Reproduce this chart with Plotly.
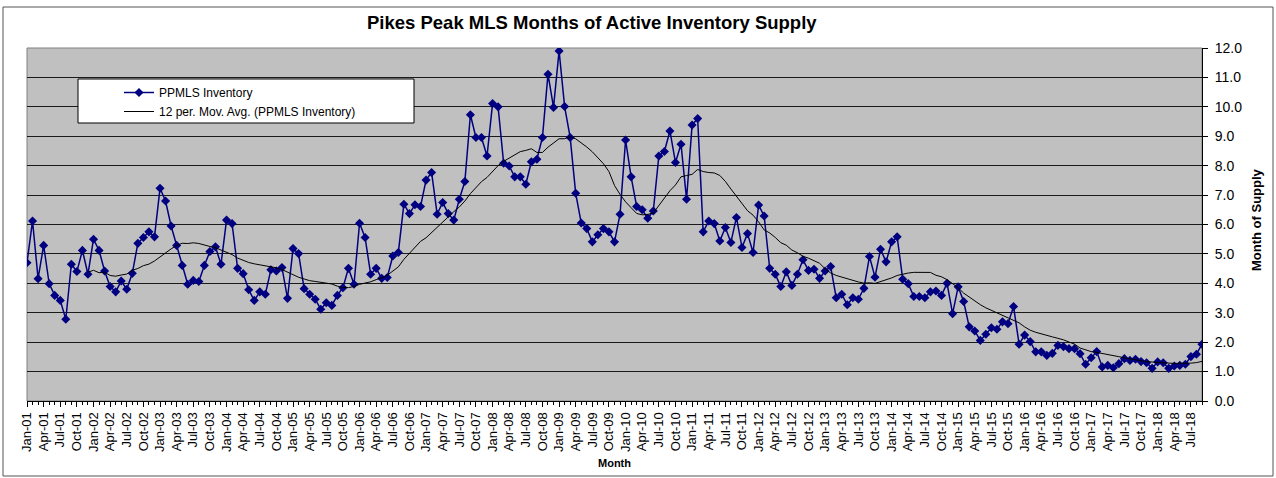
import pandas as pd
import plotly.graph_objects as go

# Months of supply, one list per year (Jan..Dec)
supply_2001 = [4.70, 6.12, 4.16, 5.29, 3.99, 3.59, 3.42, 2.78, 4.65, 4.40, 5.12, 4.31]
supply_2002 = [5.50, 5.12, 4.42, 3.89, 3.71, 4.08, 3.80, 4.34, 5.36, 5.56, 5.75, 5.58]
supply_2003 = [7.23, 6.80, 5.95, 5.29, 4.61, 3.97, 4.10, 4.06, 4.61, 5.08, 5.24, 4.65]
supply_2004 = [6.15, 6.03, 4.51, 4.33, 3.78, 3.42, 3.71, 3.63, 4.46, 4.42, 4.54, 3.49]
supply_2005 = [5.18, 5.01, 3.82, 3.63, 3.46, 3.12, 3.34, 3.25, 3.59, 3.85, 4.51, 3.97]
supply_2006 = [6.04, 5.56, 4.31, 4.51, 4.17, 4.20, 4.93, 5.05, 6.69, 6.37, 6.67, 6.61]
supply_2007 = [7.51, 7.77, 6.35, 6.75, 6.37, 6.15, 6.86, 7.46, 9.73, 8.96, 8.96, 8.33]
supply_2008 = [10.11, 10.00, 8.08, 7.99, 7.62, 7.62, 7.37, 8.13, 8.22, 8.96, 11.11, 9.98]
supply_2009 = [11.90, 10.01, 8.96, 7.06, 6.05, 5.86, 5.41, 5.65, 5.86, 5.75, 5.41, 6.35]
supply_2010 = [8.87, 7.62, 6.61, 6.50, 6.21, 6.46, 8.33, 8.48, 9.18, 8.11, 8.73, 6.86]
supply_2011 = [9.38, 9.60, 5.75, 6.12, 6.03, 5.44, 5.90, 5.39, 6.24, 5.22, 5.69, 5.05]
supply_2012 = [6.66, 6.29, 4.51, 4.31, 3.89, 4.39, 3.93, 4.31, 4.80, 4.44, 4.48, 4.17]
supply_2013 = [4.42, 4.57, 3.51, 3.63, 3.27, 3.51, 3.46, 3.83, 4.91, 4.21, 5.16, 4.73]
supply_2014 = [5.41, 5.58, 4.14, 3.99, 3.55, 3.55, 3.51, 3.71, 3.74, 3.59, 4.00, 2.97]
supply_2015 = [3.88, 3.38, 2.52, 2.38, 2.06, 2.27, 2.49, 2.44, 2.69, 2.63, 3.21, 1.93]
supply_2016 = [2.24, 2.02, 1.67, 1.67, 1.55, 1.62, 1.89, 1.85, 1.78, 1.78, 1.61, 1.25]
supply_2017 = [1.47, 1.68, 1.16, 1.21, 1.13, 1.27, 1.44, 1.38, 1.42, 1.34, 1.30, 1.11]
supply_2018 = [1.33, 1.30, 1.11, 1.19, 1.21, 1.25, 1.51, 1.59, 1.93]

inventory = (supply_2001 + supply_2002 + supply_2003 + supply_2004 + supply_2005
             + supply_2006 + supply_2007 + supply_2008 + supply_2009 + supply_2010
             + supply_2011 + supply_2012 + supply_2013 + supply_2014 + supply_2015
             + supply_2016 + supply_2017 + supply_2018)

# Category labels (Jan-01 ... Sep-18)
months = list(pd.date_range("2001-01-01", periods=len(inventory), freq="MS").strftime("%b-%y"))
x_idx = list(range(len(inventory)))

# 12-period moving-average trendline (as Excel computes it)
mov_avg = pd.Series(inventory).rolling(12).mean().tolist()

NAVY = "#000080"
FONT = "Liberation Sans, Arial, sans-serif"

# pixel layout helpers
L, R, T, B = 27, 1202, 48, 401
def px(x):
    return (x - L) / (R - L)
def py(y):
    return (B - y) / (B - T)

fig = go.Figure()
fig.add_trace(go.Scatter(
    x=x_idx, y=inventory, mode="lines+markers", name="PPMLS Inventory",
    line=dict(color=NAVY, width=1.5),
    marker=dict(symbol="diamond", size=7, color=NAVY),
))
fig.add_trace(go.Scatter(
    x=x_idx, y=mov_avg, mode="lines", name="12 per. Mov. Avg. (PPMLS Inventory)",
    line=dict(color="black", width=1),
))

shapes = [
    # outer chart border
    dict(type="rect", xref="paper", yref="paper", x0=px(3), x1=px(1273), y0=py(476), y1=py(7),
         line=dict(color="#555555", width=1), fillcolor="rgba(0,0,0,0)", layer="below"),
    # plot area border
    dict(type="rect", xref="paper", yref="paper", x0=0, x1=1, y0=0, y1=1,
         line=dict(color="#808080", width=1), fillcolor="rgba(0,0,0,0)", layer="below"),
    # legend box
    dict(type="rect", xref="paper", yref="paper", x0=px(78), x1=px(414), y0=py(123), y1=py(79),
         line=dict(color="black", width=1), fillcolor="white", layer="above"),
]

fig.update_layout(
    width=1276, height=478,
    margin=dict(l=L, r=1276 - R, t=T, b=478 - B),
    paper_bgcolor="white", plot_bgcolor="#C0C0C0",
    font=dict(family=FONT, color="black", size=12),
    showlegend=True,
    legend=dict(x=px(119), y=py(78), xanchor="left", yanchor="top",
                bgcolor="rgba(0,0,0,0)", borderwidth=0,
                font=dict(family=FONT, size=12), tracegroupgap=0),
    shapes=shapes,
    annotations=[
        dict(text="<b>Pikes Peak MLS Months of Active Inventory Supply</b>", xref="paper", yref="paper",
             x=px(592), y=py(22), xanchor="center", yanchor="middle", showarrow=False,
             font=dict(family=FONT, size=18.5)),
        dict(text="<b>Month</b>", xref="paper", yref="paper",
             x=px(614), y=py(463), xanchor="center", yanchor="middle", showarrow=False,
             font=dict(family=FONT, size=11)),
        dict(text="<b>Month of Supply</b>", xref="paper", yref="paper",
             x=px(1256), y=py(220), xanchor="center", yanchor="middle", showarrow=False,
             textangle=-90, font=dict(family=FONT, size=13)),
    ],
    xaxis=dict(
        range=[0, len(inventory) - 1], showgrid=False, zeroline=False,
        showline=True, linecolor="black", linewidth=1,
        tickmode="array", tickvals=x_idx[::3], ticktext=months[::3],
        ticks="outside", ticklen=5, tickcolor="black", tickangle=-90,
        tickfont=dict(family=FONT, size=13),
        minor=dict(tickmode="array", tickvals=x_idx, ticks="outside", ticklen=3,
                   tickcolor="black", showgrid=False),
    ),
    yaxis=dict(
        range=[0, 12], side="right", dtick=1, tickformat=".1f",
        showgrid=True, gridcolor="#1a1a1a", gridwidth=1, zeroline=False,
        showline=True, linecolor="black", linewidth=1,
        ticks="outside", ticklen=5, tickcolor="black", ticklabelstandoff=4,
        tickfont=dict(family=FONT, size=14),
    ),
)

fig.write_html("out.html", config={"displayModeBar": False},
               post_script="document.body.style.margin='0px';")
